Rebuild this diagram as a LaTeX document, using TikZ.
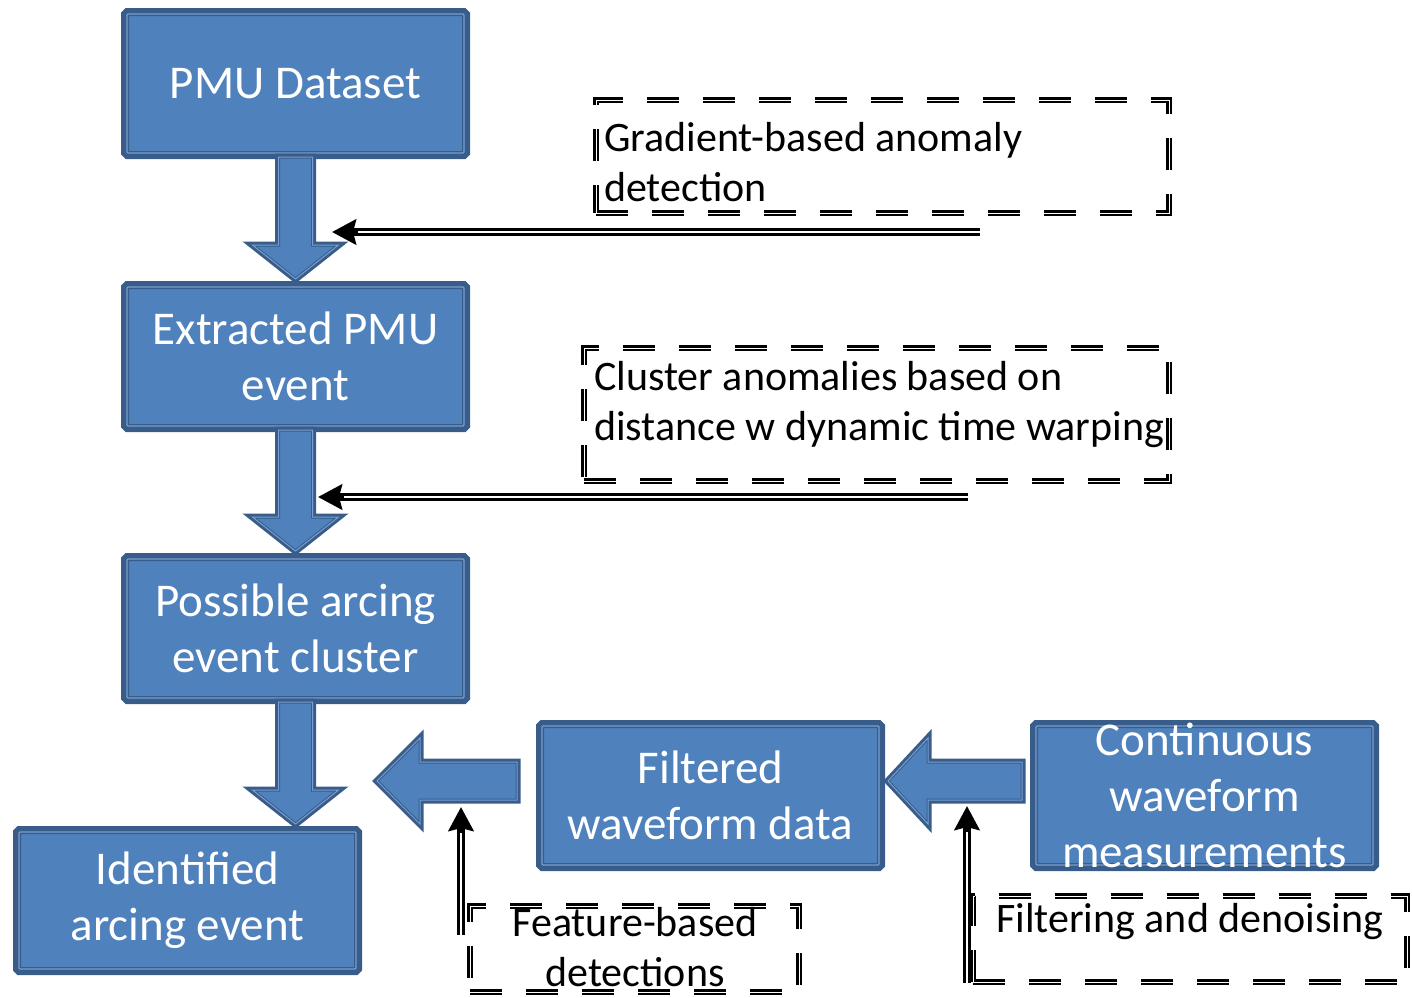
\documentclass[tikz,border=0pt]{standalone}
\usepackage{fontspec}
\setmainfont{Carlito}
\usepackage{tikz}
\usetikzlibrary{arrows.meta, calc}
\definecolor{boxfill}{HTML}{4F81BD}
\definecolor{boxline}{HTML}{385D8A}
\definecolor{boxlight}{HTML}{7A9FD0}
\tikzset{
  stage/.style    = {rectangle, rounded corners=1pt, fill=boxfill, draw=boxline, line width=4pt,
                     preaction={draw=boxline, line width=12pt},
                     postaction={draw=boxlight, line width=1.2pt},
                     text=white, align=center, inner sep=0pt,
                     minimum width=337pt, minimum height=139pt,
                     font=\fontsize{47}{56}\selectfont},
  bigarrow/.style = {fill=boxfill, draw=boxline, line width=3pt,
                     preaction={draw=boxline, line width=7pt},
                     postaction={draw=boxlight, line width=1pt}},
  note/.style     = {rectangle, draw=black, line width=2.8pt, double=white, double distance=1pt,
                     dash pattern=on 32pt off 24pt, inner sep=0pt},
  notetext/.style = {inner sep=0pt, align=left, font=\fontsize{42}{50}\selectfont},
  feedback/.style = {draw=black, line width=7.5pt, -{Stealth[length=24pt, width=25pt, inset=3pt]},
                     postaction={draw=white, line width=1.2pt, arrows=-, shorten >=26pt}},
}

\begin{document}
\begin{tikzpicture}[x=1pt, y=-1pt]
    \useasboundingbox (0,0) rectangle (1412,997);

    %% Main chain
    \node[stage] (pmu)        at (295.5, 83.5)  {PMU Dataset};
    \node[stage] (extracted)  at (295.5, 356.5) {Extracted PMU\\event};
    \node[stage] (possible)   at (295.5, 628.5) {Possible arcing\\event cluster};
    \node[stage, minimum height=137pt] (identified) at (187.5, 900.5) {Identified\\arcing event};
    \node[stage] (filtered)   at (710.5, 795.5) {Filtered\\waveform data};
    \node[stage, inner ysep=-8pt] (continuous) at (1204.5, 795.5) {Continuous\\waveform\\measurements};

    %% Dashed notes
    \node[note, minimum width=573pt, minimum height=113pt] (gradbox)    at (882.5, 156.5) {};
    \node[note, minimum width=585pt, minimum height=133pt] (clusterbox) at (876.5, 414.5) {};
    \node[note, minimum width=329pt, minimum height=86pt]  (featurebox) at (634.5, 949)   {};
    \node[note, minimum width=434pt, minimum height=86pt]  (filterbox)  at (1190, 939)    {};

    \node[notetext, anchor=west] (gradtext)    at (604, 162) {Gradient-based anomaly\\detection};
    \node[notetext, anchor=west] (clustertext) at (594, 405) {Cluster anomalies based on\\distance w dynamic time warping};
    \node[notetext, align=center] (featuretext) at (635, 947) {Feature-based\\detections};
    \node[notetext, anchor=west] (filtertext)  at (996, 922) {Filtering and denoising};

    %% Block arrows
    \foreach \a/\b in {pmu/extracted, extracted/possible, possible/identified}
      \draw[bigarrow] ($(\a.south)+(-17,2)$) -- ($(\a.south |- \b.north)+(-17,-40)$)
        -- ($(\a.south |- \b.north)+(-43,-40)$) -- ($(\a.south |- \b.north)+(0,-6)$)
        -- ($(\a.south |- \b.north)+(43,-40)$) -- ($(\a.south |- \b.north)+(17,-40)$)
        -- ($(\a.south)+(17,2)$) -- cycle;

    \draw[bigarrow] ($(filtered.west)+(-23,-33.5)$) -- ($(filtered.west)+(-120,-33.5)$)
      -- ($(filtered.west)+(-120,-57.5)$) -- ($(filtered.west)+(-163,-14.5)$)
      -- ($(filtered.west)+(-120,28.5)$) -- ($(filtered.west)+(-120,4.5)$)
      -- ($(filtered.west)+(-23,4.5)$) -- cycle;
    \draw[bigarrow] ($(continuous.west)+(-12,-33.5)$) -- ($(continuous.west)+(-106,-33.5)$)
      -- ($(continuous.west)+(-106,-57.5)$) -- ($(continuous.west)+(-146,-14.5)$)
      -- ($(continuous.west)+(-106,28.5)$) -- ($(continuous.west)+(-106,4.5)$)
      -- ($(continuous.west)+(-12,4.5)$) -- cycle;

    %% Feedback arrows
    \coordinate (gradfrom)    at (980, 232);
    \coordinate (gradto)      at (332, 232);
    \coordinate (clusterfrom) at (968, 497);
    \coordinate (clusterto)   at (318, 497);
    \coordinate (featurefrom) at (461, 935);
    \coordinate (featureto)   at (461, 807);
    \coordinate (filterfrom)  at (967, 983);
    \coordinate (filterto)    at (967, 806);

    \draw[feedback] (gradfrom) -- (gradto);
    \draw[feedback] (clusterfrom) -- (clusterto);
    \draw[feedback] (featurefrom) -- (featureto);
    \draw[feedback] (filterfrom) -- (filterto);

\end{tikzpicture}
\end{document}
